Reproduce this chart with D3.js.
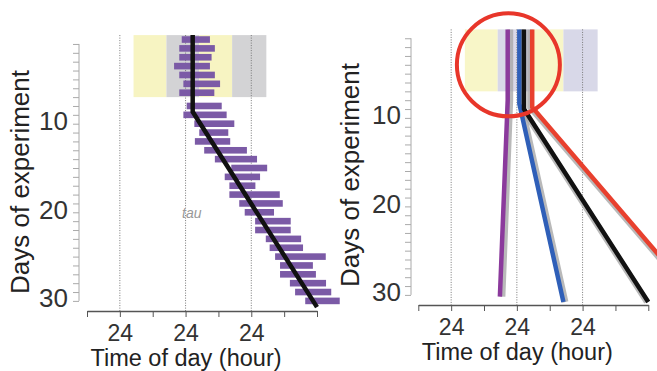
<!DOCTYPE html>
<html>
<head>
<meta charset="utf-8">
<script src="https://cdn.jsdelivr.net/npm/d3@7"></script>
<style>
  body { margin: 0; background: #fff; }
  text { font-family: "Liberation Sans", Arial, sans-serif; }
</style>
</head>
<body>
<svg class="chart" width="657" height="371"></svg>
<script>
// x axis: hours, one tick every 12 h, midnights labelled "24"
const hourTicks = [12, 24, 36, 48, 60, 72, 84, 96]
const hourLabels = [24, 48, 72]
const dayTicks = d3.range(1, 31)
const dayLabels = [10, 20, 30]

// light / dark schedule during the first week
const ldStart = [29, 41, 53, 65]
const ldEnd = [41, 53, 65, 77.5]
const ldPhase = ["light", "dark", "light", "dark"]
const ldDays = [0, 7]

// left panel : activity bars (one row per day)
const rowDay = [0.5, 1.5, 2.5, 3.5, 4.5, 5.5, 6.5, 8, 9, 10, 11, 12, 13, 14, 15,
  16, 17, 18, 19, 20, 21, 22, 23, 24, 25, 26, 27, 28, 29, 30]
const onset = [46.6, 45.7, 45.7, 43.8, 45.7, 47.2, 45.7, 48.4, 47.2, 51.2, 53.0, 51.4,
  54.8, 58.7, 64.7, 62.3, 64.0, 64.0, 67.6, 69.6, 73.4, 73.4, 77.3, 78.7, 80.7, 82.5,
  82.5, 86.1, 88.0, 91.7]
const offset = [56.9, 58.7, 57.5, 56.9, 58.7, 60.6, 58.5, 61.2, 63.0, 65.8, 63.6, 64.3,
  70.4, 74.1, 77.8, 75.2, 73.5, 82.4, 83.5, 80.3, 86.4, 86.4, 90.2, 90.9, 99.2, 94.5,
  95.6, 99.3, 101.2, 104.3]
const leftFit = [[50.6, 0], [50.6, 8.65], [96, 30.7]]
const tauLabel = [46.7, 20.6]

// right panel : fitted onset lines
const lineNames = ["purple", "blue", "black", "red"]
const purpleFit = [[44.65, 0], [44.65, 8], [41.8, 30.2]]
const blueFit = [[48.9, 0], [48.9, 8.4], [65, 30.8]]
const blackFit = [[50.6, 0], [50.6, 9.0], [96, 30.8]]
const redFit = [[53.6, 0], [53.6, 8.8], [114.5, 30.8]]
const circleAt = [44.9, 4.0]

const svg = d3.select(".chart")

function drawPanel(p) {
  const g = svg.append("g")
  const x = d3.scaleLinear().domain([12, 96]).range(p.xr)
  const y = d3.scaleLinear().domain([1, 30]).range(p.yr)

  // LD boxes
  g.selectAll("rect.ld")
    .data(ldStart)
    .enter()
    .append("rect")
    .attr("x", d => x(d))
    .attr("width", (d, i) => x(ldEnd[i]) - x(d))
    .attr("y", y(ldDays[0]))
    .attr("height", y(ldDays[1]) - y(ldDays[0]))
    .attr("fill", (d, i) => ldPhase[i] == "light" ? p.light : p.dark)

  // dotted midnight lines
  g.selectAll("line.mid")
    .data(hourLabels)
    .enter()
    .append("line")
    .attr("x1", d => x(d)).attr("x2", d => x(d))
    .attr("y1", y(0)).attr("y2", p.axisY)
    .attr("stroke", "#777")
    .attr("stroke-width", 1)
    .attr("stroke-dasharray", "1,1.5")

  p.draw(g, x, y)

  // y axis
  const ya = g.append("g")
    .attr("transform", "translate(" + p.axisX + ",0)")
    .call(d3.axisLeft(y).tickValues(dayTicks).tickSize(6).tickPadding(p.yPad)
      .tickFormat(d => dayLabels.includes(d) ? d : ""))
  ya.select(".domain").attr("stroke", "#aaa").attr("d", "M0," + y(1) + "V" + y(30))
  ya.selectAll(".tick line").attr("stroke", "#aaa")
  ya.selectAll("text").attr("font-size", 26).attr("fill", "#333").attr("dy", "0.22em")
    .style("font-family", "'Liberation Sans', Arial, sans-serif")

  // x axis
  const xa = g.append("g")
    .attr("transform", "translate(0," + p.axisY + ")")
    .call(d3.axisBottom(x).tickValues(hourTicks).tickSize(6).tickSizeOuter(0)
      .tickFormat(h => hourLabels.includes(h) ? "24" : ""))
  xa.select(".domain").attr("stroke", "#555").attr("stroke-width", 1.5)
  xa.selectAll(".tick line").attr("stroke", "#555")
  xa.selectAll("text").attr("font-size", 23).attr("fill", "#333")
    .attr("y", p.xLabY).attr("dy", null)
    .style("font-family", "'Liberation Sans', Arial, sans-serif")

  g.append("text")
    .attr("x", (p.xr[0] + p.xr[1]) / 2 - 16)
    .attr("y", p.titleY)
    .attr("text-anchor", "middle")
    .attr("font-size", 23.5)
    .attr("fill", "#222")
    .text("Time of day (hour)")

  g.append("text")
    .attr("transform", "translate(" + p.ylabX + "," + p.ylabY + ") rotate(-90)")
    .attr("text-anchor", "middle")
    .attr("font-size", 26)
    .attr("fill", "#222")
    .text("Days of experiment")
}

const line = (x, y) => d3.line().x(d => x(d[0])).y(d => y(d[1]))

drawPanel({
  xr: [87, 317], yr: [43.96, 300.9], axisX: 79, axisY: 311, yPad: 5,
  xLabY: 30, titleY: 366, ylabX: 28.6, ylabY: 182,
  light: "#f7f4c2", dark: "#d3d3d5",
  draw: function (g, x, y) {
    g.selectAll("rect.bar")
      .data(rowDay)
      .enter()
      .append("rect")
      .attr("x", (d, i) => x(onset[i]))
      .attr("width", (d, i) => x(offset[i]) - x(onset[i]))
      .attr("y", d => y(d) - 3.3)
      .attr("height", 6.6)
      .attr("fill", "#7b5aa6")
    g.append("path")
      .attr("d", line(x, y)(leftFit))
      .attr("fill", "none")
      .attr("stroke", "#111")
      .attr("stroke-width", 4.5)
    g.append("text")
      .attr("x", x(tauLabel[0])).attr("y", y(tauLabel[1]))
      .attr("font-size", 14).attr("font-style", "italic")
      .attr("fill", "#999")
      .text("tau")
  }
})

drawPanel({
  xr: [418.3, 648.3], yr: [38.25, 294.9], axisX: 411, axisY: 305, yPad: 4,
  xLabY: 30, titleY: 360, ylabX: 358.6, ylabY: 175,
  light: "#f8f6c8", dark: "#d8d8e8",
  draw: function (g, x, y) {
    const fits = [purpleFit, blueFit, blackFit, redFit]
    const colors = { purple: "#8b3a9c", blue: "#2f5fb8", black: "#111", red: "#e8402e" }
    const shadowDx = { purple: 2.5, blue: 2, black: -1.5, red: -2 }
    fits.forEach((f, i) => {
      g.append("path")
        .attr("d", line(x, y)(f))
        .attr("transform", "translate(" + shadowDx[lineNames[i]] + ",0)")
        .attr("fill", "none")
        .attr("stroke", "#a8a8a8")
        .attr("stroke-opacity", 0.8)
        .attr("stroke-width", 6)
    })
    fits.forEach((f, i) => {
      g.append("path")
        .attr("d", line(x, y)(f))
        .attr("fill", "none")
        .attr("stroke", colors[lineNames[i]])
        .attr("stroke-width", 4.5)
    })
    g.append("circle")
      .attr("cx", x(circleAt[0])).attr("cy", y(circleAt[1]))
      .attr("r", 51.5)
      .attr("fill", "none")
      .attr("stroke", "#e8362a")
      .attr("stroke-width", 4)
  }
})
</script>
</body>
</html>
